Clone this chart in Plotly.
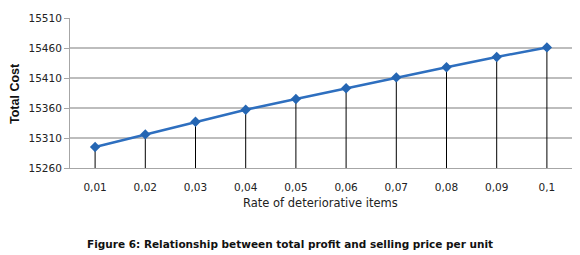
import plotly.graph_objects as go

rates = ["0,01", "0,02", "0,03", "0,04", "0,05", "0,06", "0,07", "0,08", "0,09", "0,1"]
total_cost = [15295, 15316, 15337, 15357, 15375, 15393, 15411, 15428, 15445, 15461]
y_ticks = [15260, 15310, 15360, 15410, 15460, 15510]
y_min, y_max = 15260, 15510

drop = [v - y_min for v in total_cost]

fig = go.Figure()
fig.add_trace(go.Scatter(
    x=rates, y=total_cost, mode="lines+markers",
    line=dict(color="#2E6FBF", width=2.5),
    marker=dict(symbol="diamond", size=8, color="#2566B3"),
    error_y=dict(type="data", symmetric=False, array=[0] * len(drop), arrayminus=drop,
                 color="black", thickness=1, width=0),
    showlegend=False,
))

font = "DejaVu Sans"
fig.update_layout(
    width=580, height=255,
    margin=dict(l=70, r=8, t=18, b=87),
    paper_bgcolor="white", plot_bgcolor="white",
    font=dict(family=font, color="#222222"),
    xaxis=dict(type="category", range=[-0.5, 9.5], showgrid=False,
               showline=True, linecolor="#a6a6a6", linewidth=1,
               ticks="outside", ticklen=9, tickcolor="rgba(0,0,0,0)",
               tickfont=dict(family=font, size=10.5, color="#222222")),
    yaxis=dict(range=[y_min, y_max], tickvals=y_ticks, ticktext=[str(t) for t in y_ticks],
               showgrid=True, gridcolor="#bdbdbd", gridwidth=1.5,
               showline=True, linecolor="#a6a6a6", linewidth=1,
               ticks="outside", ticklen=5, tickcolor="#a6a6a6",
               tickfont=dict(family=font, size=10.5, color="#222222"), zeroline=False),
    annotations=[
        dict(text="Rate of deteriorative items", xref="paper", yref="paper",
             x=0.499, y=-0.233, xanchor="center", yanchor="middle", showarrow=False,
             font=dict(family=font, size=11.5, color="#222222")),
        dict(text="<b>Total Cost</b>", xref="paper", yref="paper",
             x=-0.1096, y=0.5, xanchor="center", yanchor="middle", showarrow=False,
             textangle=-90, font=dict(family="Liberation Sans", size=12.5, color="#111111")),
        dict(text="<b>Figure 6: Relationship between total profit and selling price per unit</b>",
             xref="paper", yref="paper", x=0.439, y=-0.507, xanchor="center", yanchor="middle",
             showarrow=False, font=dict(family=font, size=10.5, color="#111111")),
    ],
)

fig.write_html("out.html", post_script="document.body.style.margin='0';",
               config={"displayModeBar": False})
